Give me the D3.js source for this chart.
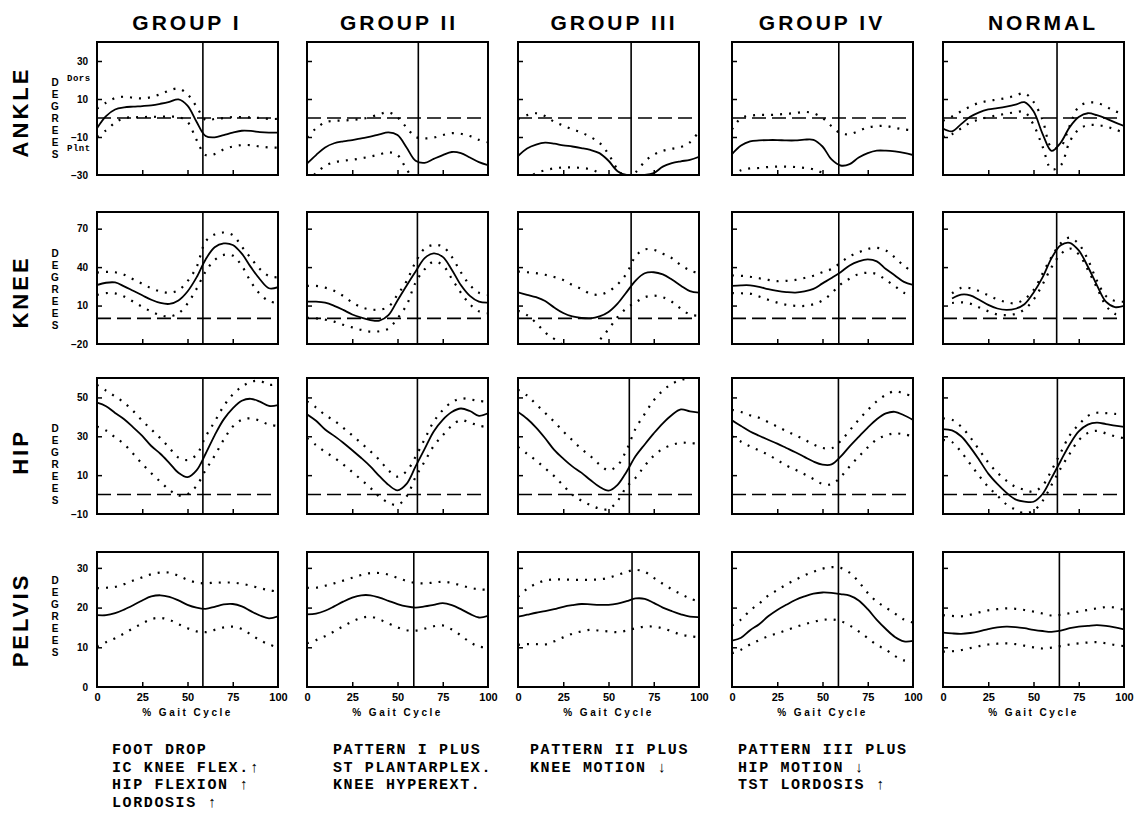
<!DOCTYPE html>
<html><head><meta charset="utf-8">
<script src="https://cdn.jsdelivr.net/npm/d3@7/dist/d3.min.js"></script>
<style>
body{margin:0;background:#fff;}
svg{display:block;}
</style></head><body>
<svg id="chart" width="1142" height="813"></svg>
<script>
// ---------- data ----------
const groups = ["GROUP I", "GROUP II", "GROUP III", "GROUP IV", "NORMAL"];
const joints = ["ANKLE", "KNEE", "HIP", "PELVIS"];
const gaitPct = [0,5,10,15,20,25,30,35,40,45,50,55,60,65,70,75,80,85,90,95,100];
const xTickLabels = [0, 25, 50, 75, 100];
const xInnerTicks = [25, 50, 75];
const ankleTicks = [30, 10, -10, -30];
const kneeTicks = [70, 40, 10, -20];
const hipTicks = [50, 30, 10, -10];
const pelvisTicks = [30, 20, 10, 0];
const ankleSideLabels = ["Dors", "Plnt"];
const ankleSideValues = [20.5, -16.5];
const axisTitle = "DEGREES";
const xAxisTitle = "% Gait Cycle";
// toe-off (% gait cycle) per joint row, per group
const toeOff = [
  [58.5, 61.5, 62.5, 59, 63],
  [58.5, 61, 62.5, 59, 62.8],
  [58.5, 61, 61.5, 58.8, 63.2],
  [58.5, 59, 63, 58.8, 64.3]
];

const ankleMean = [
  [-5.4, 1, 4.5, 5.6, 6, 6.3, 6.7, 7.5, 8.5, 9.8, 6.5, -2, -9.5, -10.2, -9, -7.7, -6.7, -6.8, -7.4, -7.7, -7.7],
  [-24, -19.5, -15.5, -13.3, -12.3, -11.6, -10.7, -9.8, -8.6, -7.6, -9, -15.5, -22.5, -23.6, -21.5, -19.5, -17.9, -18.5, -20.8, -23.2, -24.8],
  [-20, -16, -14, -13, -13.5, -14.4, -15, -15.8, -16.8, -18.5, -22.5, -28, -30, -30, -30, -29, -25.6, -23.8, -22.8, -22, -20.4],
  [-19, -14.5, -12.3, -11.8, -11.6, -11.6, -11.8, -11.8, -11.4, -11.5, -15, -21.8, -25, -24.3, -20.8, -18.5, -17.2, -17.2, -17.6, -18.3, -19.5],
  [-5.5, -7, -3.2, 0.6, 3, 4.5, 5.2, 6, 7, 8.3, 3.5, -8.3, -17.3, -13, -4.8, 0.5, 2.5, 1.5, -0.2, -2.3, -4.2]
];
const ankleUpper = [
  [5, 8, 10.5, 11.2, 10.7, 10.3, 11, 12.5, 14.5, 15.5, 12.5, 6, -1, -0.5, 0, 0.5, 0.5, 0.3, 0, -0.5, -0.5],
  [-10, -5.5, -2.3, -1.5, -1.3, -1, -0.5, 0.5, 2, 3, 0.3, -5, -10, -10.7, -10.3, -9, -8, -8.3, -9.5, -11.5, -12.8],
  [-0.5, 1.5, 2.5, 1, -2, -4, -6, -7.6, -10, -13, -19, -27, -31, -28.5, -23, -19.3, -17.3, -16.2, -15.3, -12.8, -7],
  [-6, 0, 1.2, 1.6, 1.6, 1.8, 2.2, 2.6, 3.2, 2.5, 0, -4.3, -8, -8.5, -6.8, -5, -4.3, -4.2, -5.2, -6, -6.5],
  [-1.5, 0.8, 3.5, 6, 8, 9, 9.7, 10.5, 11.8, 13, 8.5, -1, -15.5, -15, -4, 6, 8, 8, 6, 3.6, 2]
];
const ankleLower = [
  [-9.8, -6.5, -2.5, 0, 0.3, 0.5, 0.6, 0.7, 0.7, 0.5, -2, -11.5, -19.5, -19, -16.5, -15, -14.3, -14.3, -15, -15.5, -15.6],
  [-33, -29, -25.2, -23.3, -22.5, -22, -21.2, -20.3, -19.2, -18, -19.5, -27, -33, -35, -33, -30.5, -30, -30.5, -32, -34, -35],
  [-35, -32, -29, -27.5, -26.5, -26, -26, -26.3, -27, -29, -33, -38, -42, -42, -40, -38, -36, -35, -34, -33, -32],
  [-30.5, -27.5, -26.5, -26.3, -25.8, -25.6, -25.6, -25.8, -26.3, -27, -29, -33, -37, -38, -36, -33.5, -32.5, -32.5, -33, -33.5, -34],
  [-10, -8.5, -5.5, -2.5, -0.8, 0.5, 1.4, 2.3, 3, 3.2, -3.5, -15, -27, -25, -12.5, -6, -3.8, -3.7, -4.5, -6, -7.7]
];

const kneeMean = [
  [26, 27.8, 28, 25, 21.5, 18, 14.5, 12, 11.3, 14, 21, 32, 46, 55.5, 58.5, 57.3, 50.5, 40, 30.5, 23.5, 24.3],
  [13, 13, 12.2, 9.8, 6.6, 3, 0.5, -1.3, -1.8, 2.5, 14, 25.5, 36.5, 47, 50.7, 48, 38, 26, 17.5, 13, 12.3],
  [20.3, 18.4, 16.5, 13.5, 8.5, 4.2, 1.5, 0.3, 0, 1.5, 5, 11.5, 20.5, 29.5, 35.2, 36, 34.3, 30.3, 25.5, 21.3, 20.1],
  [25.3, 25.8, 25.8, 24.6, 22.8, 21.4, 20.5, 20.1, 21, 23, 27.3, 31.5, 36, 41.3, 44.5, 46, 44.5, 38.5, 33.5, 28.5, 26.1],
  [null, 15.5, 18.5, 18, 14.5, 10.5, 7.7, 6.6, 7.5, 11, 20, 32, 47, 57, 59, 53, 40.5, 26, 13, 8.8, 9.7]
];
const kneeUpper = [
  [35.7, 36.3, 36, 34, 30.5, 27, 23.5, 21, 20, 22, 29, 40, 60, 65.5, 67, 65, 56, 47, 38.5, 33, 32],
  [25.3, 25.3, 24, 21.5, 17.5, 12.5, 8.7, 7, 6.8, 9, 18.5, 29, 44, 54.5, 57.3, 56, 48, 36, 26, 20, 18.3],
  [36.5, 36, 35.3, 34, 32.3, 30, 26, 23, 19.2, 18.5, 21, 26.5, 35, 48.5, 53.8, 53.5, 50.5, 47, 41.5, 37.5, 35],
  [33.5, 33.2, 32.5, 31.3, 30, 29, 29.3, 30, 31.5, 33.3, 36, 38.5, 43.5, 48.5, 51.5, 54.2, 55, 53, 47.5, 41, 36],
  [null, 19.5, 23.8, 23.6, 21.2, 18, 14.8, 12.7, 11.8, 15, 22, 35, 48, 58.5, 63, 58, 46, 29.5, 17.5, 13.5, 13]
];
const kneeLower = [
  [18.3, 19.7, 19.5, 17, 13, 9, 5.3, 2.5, 1.4, 4, 11.5, 23, 36.5, 45.5, 49.5, 49, 41, 28.5, 19, 13.5, 11.8],
  [0.5, 0, -1, -2.5, -5, -7, -9, -10.4, -10, -8, 0, 10.3, 28, 38.3, 44.3, 41.5, 31, 20, 11, 5.5, 4],
  [6, 2.5, -3.5, -11, -16, -21, -24, -25, -23, -17, -8.5, 1, 8, 12.5, 16.5, 17.7, 16.5, 13, 7.5, 3, 2],
  [19.8, 19.6, 19.3, 17, 14.5, 12.3, 10.6, 9.8, 9.7, 11, 14, 19.5, 26.5, 31, 34.5, 35.6, 34.5, 30, 25, 20, 18],
  [null, 12, 12.5, 11.5, 8.5, 5.5, 3, 2.5, 3.5, 7, 14.5, 26.5, 40, 50, 54.5, 50, 38, 24, 10, 3.5, 4]
];

const hipMean = [
  [47.3, 45.5, 42, 38.8, 34.6, 30.2, 25, 21, 16.2, 11.2, 9, 12.5, 21, 30.5, 38.7, 44.4, 48.3, 49.3, 47.8, 45.6, 46],
  [41.3, 38, 33.5, 30.2, 26.7, 22.8, 18.8, 14.5, 9.5, 5, 2.2, 5.5, 14.5, 23.5, 32.5, 38.5, 42.5, 44.3, 43, 40.5, 41.8],
  [42.5, 39, 34.5, 29, 23, 18.5, 14.5, 11.3, 7.5, 4, 2, 5, 11.8, 19.8, 25.8, 31.5, 36.7, 41, 43.8, 42.8, 42.2],
  [38.2, 35.3, 32.5, 30.3, 28.2, 26.2, 24, 21.8, 19.4, 17, 15.4, 15.5, 19.5, 24.8, 29.7, 34.5, 38.8, 41.8, 42.6, 40.8, 38.4],
  [33.7, 33, 30, 24.4, 17.8, 10.8, 5.5, 1, -2.5, -3.6, -3.7, 0.3, 8.6, 17.3, 25.8, 32.5, 36, 37, 36.3, 35.5, 34.8]
];
const hipUpper = [
  [56.5, 53.5, 50.5, 47.3, 43, 38, 33.5, 29, 24, 19, 17.8, 20.5, 29.8, 37.5, 45.5, 51.5, 55.5, 58, 58.5, 56.5, 57],
  [48, 44.8, 41, 38, 34.4, 30.5, 26.4, 22.3, 17.8, 12.5, 9.2, 12, 19.5, 28.5, 37.5, 43.5, 47.5, 49.5, 49, 48.2, 47.8],
  [54, 51, 46.5, 42, 37.5, 32.5, 28, 23.5, 19.8, 15.5, 12.5, 15, 23, 34, 41.5, 48.5, 53.5, 57, 59, 60, 61],
  [43.6, 42.5, 40.8, 39.5, 37.3, 35, 32.7, 30.5, 28.3, 25.8, 24, 23.8, 27.5, 33, 38.5, 43.5, 48, 51.3, 53.2, 52, 50.5],
  [39.2, 38.5, 35, 29.5, 23, 16.5, 11.3, 7.2, 4, 2.5, 1.5, 4.6, 12.5, 21.5, 30.5, 36, 40.5, 42.1, 41.9, 41.5, 41.3]
];
const hipLower = [
  [35, 33, 29.5, 26, 21, 15.8, 11, 6.6, 2.4, -0.5, 0.2, 4.5, 12.6, 20, 28.2, 35, 38.5, 39.2, 38, 36, 35.3],
  [29, 25.5, 22, 19, 15.5, 11.6, 7.6, 3.5, -1.1, -4.2, -5.3, -1, 9, 17, 25, 30.5, 35.5, 38.3, 37, 35.5, 34.6],
  [24.5, 21, 17.5, 13.5, 9.5, 4.7, 0, -3.1, -5.4, -7.2, -7.5, -3.3, 4, 8.7, 14.8, 20, 23.5, 25.5, 26.7, 26.5, 26.2],
  [30, 27.2, 24.8, 22.7, 20.5, 17.8, 15, 12.8, 10.5, 8, 5.5, 5.3, 9, 14.5, 19.5, 24.3, 28.3, 30.5, 31.5, 31, 30],
  [28.1, 27, 22, 15.8, 9.6, 4, -0.5, -5, -7.7, -9.6, -8.3, -3.3, 5, 13.5, 21, 28, 31.7, 32.8, 31.5, 30, 29]
];

const pelvisMean = [
  [18.1, 18.1, 18.6, 19.5, 20.6, 21.8, 22.8, 23.1, 22.7, 21.8, 20.7, 20, 19.7, 20.2, 20.8, 20.9, 20.3, 19.1, 18, 17.3, 17.8],
  [18.3, 18.5, 19.2, 20.3, 21.5, 22.5, 23.1, 23.1, 22.5, 21.7, 20.9, 20.3, 20, 20.3, 20.7, 21.1, 20.6, 19.6, 18.4, 17.5, 17.9],
  [17.7, 18.2, 18.7, 19.1, 19.6, 20.2, 20.6, 20.9, 20.8, 20.7, 20.7, 21, 21.6, 22.3, 22.2, 21.2, 20, 19.1, 18.3, 17.7, 17.6],
  [11.7, 12.4, 14.3, 15.8, 17.8, 19.4, 20.7, 21.9, 22.8, 23.5, 23.8, 23.7, 23.4, 23, 21.8, 19.6, 16.9, 14.6, 12.6, 11.5, 11.6],
  [13.7, 13.5, 13.4, 13.6, 14, 14.6, 15, 15.2, 15.1, 14.8, 14.4, 14.1, 13.9, 14.2, 14.8, 15.2, 15.4, 15.6, 15.4, 15, 14.5]
];
const pelvisUpper = [
  [24.9, 25, 25.2, 25.9, 26.8, 27.6, 28.4, 28.8, 28.8, 28, 27, 26.3, 26.1, 26.3, 26.3, 26.3, 26, 25.5, 24.9, 24.4, 24],
  [25, 25, 25.5, 26.1, 26.8, 27.5, 28.2, 28.7, 28.7, 28.3, 27.5, 26.7, 26.2, 26.1, 26.3, 26.5, 26.2, 25.6, 25, 24.6, 24.5],
  [22.7, 24.7, 26, 26.8, 27.1, 27.1, 27, 27, 27, 27.1, 27.5, 28.2, 29, 29.5, 29, 27.5, 26, 24.6, 23.4, 22.3, 21.5],
  [15.5, 17, 19.3, 21, 23, 24.4, 25.8, 27, 28.1, 29, 29.8, 30.2, 30, 28.8, 26.5, 23.7, 21.5, 20, 18.5, 17, 16.2],
  [18.1, 17.9, 17.8, 18.2, 18.8, 19.3, 19.6, 19.8, 19.7, 19.4, 19, 18.5, 18, 18.2, 18.6, 19, 19.4, 19.8, 20.1, 20, 19.4]
];
const pelvisLower = [
  [10.2, 11.3, 12.3, 13.5, 14.8, 16, 17.1, 17.4, 16.9, 15.8, 14.8, 14, 13.8, 14.4, 15, 15.2, 14.6, 13.2, 11.8, 10.7, 10],
  [11, 11.8, 12.8, 14, 15.3, 16.5, 17.4, 17.7, 17, 16, 15, 14.3, 14.2, 14.7, 15.3, 15.5, 14.5, 13, 11.3, 10.2, 9.9],
  [10.6, 10.8, 10.8, 10.7, 11.5, 12.5, 13.4, 14, 14.4, 14.2, 14, 13.8, 14.2, 14.8, 15.2, 15.2, 14.8, 14, 13.2, 12.8, 12.5],
  [8.5, 9.4, 10.7, 11.8, 12.8, 13.5, 14.3, 15.1, 15.8, 16.4, 16.9, 17, 16.6, 15.5, 14, 12.3, 10.6, 9.4, 7.8, 6.7, 6.4],
  [8.9, 9, 9.3, 9.8, 10.3, 10.7, 10.9, 11, 10.8, 10.4, 10, 9.7, 9.9, 10.3, 10.7, 11, 11.2, 11.3, 11, 10.6, 10.3]
];

const notes = [
  ["FOOT DROP", "IC KNEE FLEX.\u2191", "HIP FLEXION \u2191", "LORDOSIS \u2191"],
  ["PATTERN I PLUS", "ST PLANTARPLEX.", "KNEE HYPEREXT."],
  ["PATTERN II PLUS", "KNEE MOTION \u2193"],
  ["PATTERN III PLUS", "HIP MOTION \u2193", "TST LORDOSIS \u2191"]
];

// ---------- layout ----------
const colLeft = [97, 307, 518, 732, 943];
const panelW = 181;
const rowTop = [42, 212, 378, 552];
const rowH = [133, 132, 136, 135];
const domains = [[-30, 40], [-20, 83], [-10, 60], [0, 34]];
const yTicks = [ankleTicks, kneeTicks, hipTicks, pelvisTicks];
const seriesByJoint = [
  [ankleMean, ankleUpper, ankleLower],
  [kneeMean, kneeUpper, kneeLower],
  [hipMean, hipUpper, hipLower],
  [pelvisMean, pelvisUpper, pelvisLower]
];
const titleX = [187, 399, 614, 822, 1043];
const rowLabelY = [112, 292, 452, 620];
const degreesY = [82, 253, 428, 580];
const noteX = [112, 333, 530, 738];

const svg = d3.select("#chart");
const sans = "'Liberation Sans', Arial, sans-serif";
const mono = "'Liberation Mono', 'DejaVu Sans Mono', monospace";

// column titles
svg.selectAll("text.title").data(groups).join("text")
  .attr("class", "title")
  .attr("x", (d, i) => titleX[i]).attr("y", 30)
  .attr("text-anchor", "middle")
  .style("font-family", sans).style("font-weight", "bold")
  .style("font-size", "21px").style("letter-spacing", "3px")
  .text(d => d);

// row labels
svg.selectAll("text.rowlabel").data(joints).join("text")
  .attr("class", "rowlabel")
  .attr("transform", (d, i) => `translate(28,${rowLabelY[i]}) rotate(-90)`)
  .attr("text-anchor", "middle")
  .style("font-family", sans).style("font-weight", "bold")
  .style("font-size", "22px").style("letter-spacing", "3px")
  .text(d => d);

// DEGREES stacked letters
joints.forEach((j, r) => {
  svg.append("g").selectAll("text").data(axisTitle.split("")).join("text")
    .attr("x", 55).attr("y", (d, k) => degreesY[r] + k * 12)
    .attr("text-anchor", "middle").attr("dominant-baseline", "central")
    .style("font-family", sans).style("font-weight", "bold").style("font-size", "10px")
    .text(d => d);
});

const x = d3.scaleLinear().domain([0, 100]).range([0, panelW]);

joints.forEach((j, r) => {
  const y = d3.scaleLinear().domain(domains[r]).range([rowH[r], 0]);
  groups.forEach((g, c) => {
    const gp = svg.append("g").attr("transform", `translate(${colLeft[c]},${rowTop[r]})`);
    const clipId = `clip-${r}-${c}`;
    gp.append("clipPath").attr("id", clipId).append("rect")
      .attr("x", 0).attr("y", 0).attr("width", panelW).attr("height", rowH[r]);
    const plot = gp.append("g").attr("clip-path", `url(#${clipId})`);

    // zero reference line
    if (domains[r][0] < 0) {
      plot.append("line")
        .attr("x1", x(0)).attr("x2", x(100)).attr("y1", y(0)).attr("y2", y(0))
        .attr("stroke", "#000").attr("stroke-width", 1.6).attr("stroke-dasharray", "14,6");
    }

    const line = d3.line()
      .defined(d => d[1] != null)
      .x(d => x(d[0])).y(d => y(d[1]))
      .curve(d3.curveCatmullRom.alpha(0.5));

    const [meanArr, upArr, loArr] = seriesByJoint[r];
    [upArr[c], loArr[c]].forEach(vals => {
      plot.append("path")
        .datum(gaitPct.map((p, k) => [p, vals[k]]))
        .attr("d", line).attr("fill", "none")
        .attr("stroke", "#000").attr("stroke-width", 2.2)
        .attr("stroke-dasharray", "2,7");
    });
    plot.append("path")
      .datum(gaitPct.map((p, k) => [p, meanArr[c][k]]))
      .attr("d", line).attr("fill", "none")
      .attr("stroke", "#000").attr("stroke-width", 1.8);

    // toe-off line
    gp.append("line")
      .attr("x1", x(toeOff[r][c])).attr("x2", x(toeOff[r][c]))
      .attr("y1", 0).attr("y2", rowH[r])
      .attr("stroke", "#000").attr("stroke-width", 1.6);

    // inner tick marks
    const yAx = gp.append("g").call(
      d3.axisLeft(y).tickValues(yTicks[r].filter(v => v !== domains[r][0]))
        .tickSize(-5).tickFormat(""));
    yAx.select(".domain").remove();
    yAx.selectAll("line").attr("stroke-width", 1.5);
    const xAx = gp.append("g").attr("transform", `translate(0,${rowH[r]})`).call(
      d3.axisBottom(x).tickValues(xInnerTicks).tickSize(-5).tickFormat(""));
    xAx.select(".domain").remove();
    xAx.selectAll("line").attr("stroke-width", 1.5);

    // tick labels in first column
    if (c === 0) {
      const yl = gp.append("g").call(
        d3.axisLeft(y).tickValues(yTicks[r]).tickSize(0).tickPadding(9)
          .tickFormat(d3.format("d")));
      yl.select(".domain").remove();
      yl.selectAll("text").style("font-family", sans).style("font-weight", "bold")
        .style("font-size", "10px").attr("fill", "#000");
      if (r === 0) {
        gp.selectAll("text.side").data(ankleSideLabels).join("text")
          .attr("class", "side")
          .attr("x", -30).attr("y", (d, k) => y(ankleSideValues[k]))
          .attr("dominant-baseline", "central")
          .style("font-family", mono).style("font-weight", "bold")
          .style("font-size", "9px").style("letter-spacing", "0.5px")
          .text(d => d);
      }
    }

    // x labels in bottom row
    if (r === joints.length - 1) {
      const xl = gp.append("g").attr("transform", `translate(0,${rowH[r]})`).call(
        d3.axisBottom(x).tickValues(xTickLabels).tickSize(0).tickPadding(6)
          .tickFormat(d3.format("d")));
      xl.select(".domain").remove();
      xl.selectAll("text").style("font-family", sans).style("font-weight", "bold")
        .style("font-size", "11px").attr("fill", "#000");
      gp.append("text")
        .attr("x", x(50)).attr("y", rowH[r] + 29)
        .attr("text-anchor", "middle")
        .style("font-family", sans).style("font-weight", "bold")
        .style("font-size", "10px").style("letter-spacing", "2.5px")
        .text(xAxisTitle);
    }

    // frame
    gp.append("rect")
      .attr("x", 0).attr("y", 0).attr("width", panelW).attr("height", rowH[r])
      .attr("fill", "none").attr("stroke", "#000").attr("stroke-width", 2);
  });
});

// pattern notes
notes.forEach((lines, i) => {
  svg.append("g").selectAll("text").data(lines).join("text")
    .attr("x", noteX[i]).attr("y", (d, k) => 754 + k * 17.5)
    .style("font-family", mono).style("font-weight", "bold")
    .style("font-size", "15px").style("letter-spacing", "1.6px")
    .text(d => d);
});
</script>
</body></html>
